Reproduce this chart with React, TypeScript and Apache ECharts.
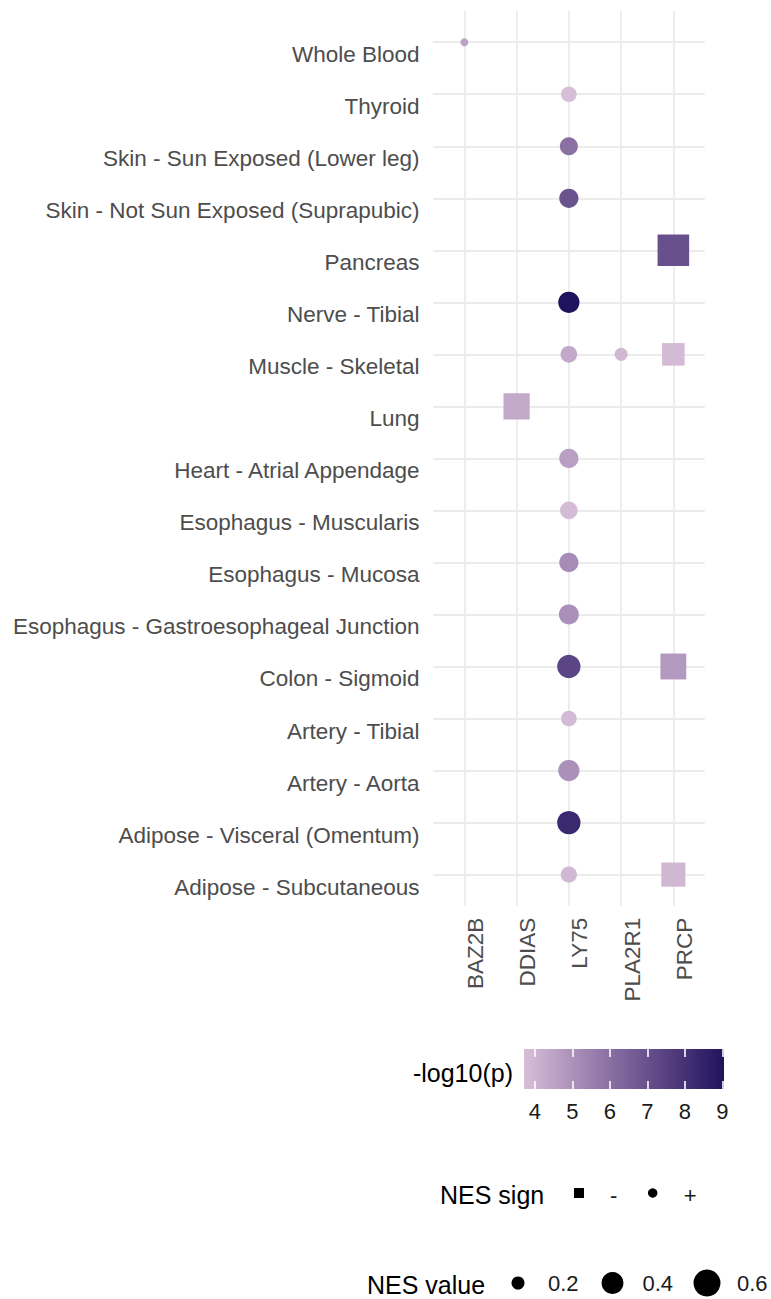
import React, { useEffect, useRef } from "react";
import * as echarts from "echarts";

// y categories, bottom to top
const tissues = [
  "Adipose - Subcutaneous",
  "Adipose - Visceral (Omentum)",
  "Artery - Aorta",
  "Artery - Tibial",
  "Colon - Sigmoid",
  "Esophagus - Gastroesophageal Junction",
  "Esophagus - Mucosa",
  "Esophagus - Muscularis",
  "Heart - Atrial Appendage",
  "Lung",
  "Muscle - Skeletal",
  "Nerve - Tibial",
  "Pancreas",
  "Skin - Not Sun Exposed (Suprapubic)",
  "Skin - Sun Exposed (Lower leg)",
  "Thyroid",
  "Whole Blood",
];
const genes = ["BAZ2B", "DDIAS", "LY75", "PLA2R1", "PRCP"];

// points
const pointTissue = [
  "Whole Blood",
  "Thyroid",
  "Skin - Sun Exposed (Lower leg)",
  "Skin - Not Sun Exposed (Suprapubic)",
  "Pancreas",
  "Nerve - Tibial",
  "Muscle - Skeletal",
  "Muscle - Skeletal",
  "Muscle - Skeletal",
  "Lung",
  "Heart - Atrial Appendage",
  "Esophagus - Muscularis",
  "Esophagus - Mucosa",
  "Esophagus - Gastroesophageal Junction",
  "Colon - Sigmoid",
  "Colon - Sigmoid",
  "Artery - Tibial",
  "Artery - Aorta",
  "Adipose - Visceral (Omentum)",
  "Adipose - Subcutaneous",
  "Adipose - Subcutaneous",
];
const pointGene = [
  "BAZ2B", "LY75", "LY75", "LY75", "PRCP", "LY75", "LY75", "PLA2R1", "PRCP",
  "DDIAS", "LY75", "LY75", "LY75", "LY75", "LY75", "PRCP", "LY75", "LY75",
  "LY75", "LY75", "PRCP",
];
const pointNES = [
  0.17, 0.24, 0.29, 0.32, -0.62, 0.38, 0.26, 0.2, -0.33,
  -0.43, 0.32, 0.28, 0.32, 0.34, 0.45, -0.42, 0.24, 0.38,
  0.45, 0.25, -0.37,
];
const pointLogP = [
  4.5, 3.71, 6.0, 6.9, 7.0, 9.04, 4.35, 3.95, 3.85,
  4.35, 4.6, 3.8, 5.15, 5.05, 7.35, 4.8, 3.85, 5.0,
  8.3, 3.9, 3.95,
];

const colorRange = [3.71, 9.04];
const colorTicks = [4, 5, 6, 7, 8, 9];
const colorStops = ["#d8bfd8", "#aa90b9", "#7d649a", "#503a7c", "#20135e"];
const sizeBreaks = [0.2, 0.4, 0.6];
const signLabels = ["-", "+"];

const FONT = "'Liberation Sans', Arial, sans-serif";
const dia = (v: number) => 8 + 29 * Math.sqrt(Math.max(Math.abs(v) - 0.17, 0));

export default function App() {
  const ref = useRef<HTMLDivElement>(null);
  useEffect(() => {
    document.body.style.margin = "0";
    const chart = echarts.init(ref.current!, null, { renderer: "svg" });
    const data = pointTissue.map((t, i) => [
      genes.indexOf(pointGene[i]),
      tissues.indexOf(t),
      pointNES[i],
      pointLogP[i],
    ]);
    const gridColor = "#ebebeb";
    const option: any = {
      animation: false,
      backgroundColor: "#ffffff",
      textStyle: { fontFamily: FONT },
      grid: [
        { left: 433, top: 11, width: 271.7, height: 894.8 },
        { left: 524, top: 1049, width: 200, height: 40 },
        { left: 542.15, top: 1180, width: 147.4, height: 26 },
        { left: 470.75, top: 1268, width: 283.5, height: 30 },
      ],
      xAxis: [
        {
          type: "value",
          gridIndex: 0,
          min: -0.6,
          max: genes.length - 1 + 0.6,
          axisLine: { show: false },
          axisTick: { show: false, customValues: genes.map((_, i) => i) },
          axisLabel: {
            customValues: genes.map((_, i) => i),
            formatter: (v: number) => "\n" + (genes[Math.round(v)] ?? ""),
            rotate: 90,
            margin: 12,
            fontSize: 22.5,
            lineHeight: 22,
            color: "#4d4d4d",
            fontFamily: FONT,
          },
          splitLine: { show: true, lineStyle: { color: gridColor, width: 1.8 } },
        },
        {
          type: "value",
          gridIndex: 1,
          position: "bottom",
          min: colorRange[0],
          max: colorRange[1],
          z: 10,
          axisLine: { show: false },
          axisTick: {
            show: true,
            inside: true,
            length: 8,
            customValues: colorTicks,
            lineStyle: { color: "#ffffff", width: 1.6 },
          },
          axisLabel: {
            customValues: colorTicks,
            margin: 11,
            fontSize: 22,
            color: "#1a1a1a",
            fontFamily: FONT,
          },
          splitLine: { show: false },
        },
        {
          type: "value",
          gridIndex: 1,
          position: "top",
          min: colorRange[0],
          max: colorRange[1],
          z: 10,
          axisLine: { show: false },
          axisTick: {
            show: true,
            inside: true,
            length: 8,
            customValues: colorTicks,
            lineStyle: { color: "#ffffff", width: 1.6 },
          },
          axisLabel: { show: false },
          splitLine: { show: false },
        },
        {
          type: "category",
          gridIndex: 2,
          data: signLabels,
          show: false,
        },
        {
          type: "category",
          gridIndex: 3,
          data: sizeBreaks.map((b) => b.toFixed(1)),
          show: false,
        },
      ],
      yAxis: [
        {
          type: "value",
          gridIndex: 0,
          min: -0.6,
          max: tissues.length - 1 + 0.6,
          axisLine: { show: false },
          axisTick: { show: false, customValues: tissues.map((_, i) => i) },
          axisLabel: {
            customValues: tissues.map((_, i) => i),
            formatter: (v: number) => "\n" + (tissues[Math.round(v)] ?? ""),
            margin: 13.5,
            fontSize: 22.5,
            lineHeight: 25,
            color: "#4d4d4d",
            fontFamily: FONT,
            verticalAlign: "middle",
          },
          splitLine: { show: true, lineStyle: { color: gridColor, width: 1.8 } },
        },
        { type: "value", gridIndex: 1, min: 0, max: 1, show: false },
        { type: "value", gridIndex: 2, min: 0, max: 1, show: false },
        { type: "value", gridIndex: 3, min: 0, max: 1, show: false },
      ],
      visualMap: {
        type: "continuous",
        show: false,
        seriesIndex: 0,
        dimension: 3,
        min: colorRange[0],
        max: colorRange[1],
        inRange: { color: colorStops },
      },
      series: [
        {
          type: "scatter",
          xAxisIndex: 0,
          yAxisIndex: 0,
          data,
          symbol: (v: number[]) => (v[2] < 0 ? "rect" : "circle"),
          symbolSize: (v: number[]) => (v[2] < 0 ? dia(v[2]) * 1.15 : dia(v[2])),
          itemStyle: { opacity: 1 },
          z: 3,
        },
        {
          type: "custom",
          xAxisIndex: 1,
          yAxisIndex: 1,
          data: [[colorRange[0], colorRange[1]]],
          z: 1,
          renderItem: (params: any, api: any) => {
            const p0 = api.coord([api.value(0), 1]);
            const p1 = api.coord([api.value(1), 0]);
            return {
              type: "rect",
              shape: { x: p0[0], y: p0[1], width: p1[0] - p0[0], height: p1[1] - p0[1] },
              style: {
                fill: new echarts.graphic.LinearGradient(
                  0, 0, 1, 0,
                  colorStops.map((c, i) => ({ offset: i / (colorStops.length - 1), color: c }))
                ),
              },
            };
          },
        },
        {
          type: "scatter",
          xAxisIndex: 3,
          yAxisIndex: 2,
          data: [
            { value: [0, 0.5], symbol: "rect", symbolSize: 10 },
            { value: [1, 0.5], symbol: "circle", symbolSize: 9.5 },
          ],
          itemStyle: { color: "#000000", opacity: 1 },
          label: {
            show: true,
            position: "inside",
            align: "left",
            offset: [31, 2],
            formatter: (p: any) => signLabels[p.dataIndex],
            fontSize: 22,
            color: "#1a1a1a",
            fontFamily: FONT,
          },
        },
        {
          type: "scatter",
          xAxisIndex: 4,
          yAxisIndex: 3,
          data: sizeBreaks.map((b, i) => ({ value: [i, 0.5], symbolSize: dia(b) })),
          symbol: "circle",
          itemStyle: { color: "#000000", opacity: 1 },
          label: {
            show: true,
            position: "inside",
            align: "left",
            offset: [30, 0],
            formatter: (p: any) => sizeBreaks[p.dataIndex].toFixed(1),
            fontSize: 22,
            color: "#1a1a1a",
            fontFamily: FONT,
          },
        },
      ],
      graphic: [
        {
          type: "text",
          x: 513,
          y: 1073,
          style: {
            text: "-log10(p)",
            fontSize: 25,
            fontFamily: FONT,
            fill: "#000000",
            align: "right",
            verticalAlign: "middle",
          },
        },
        {
          type: "text",
          x: 440,
          y: 1195,
          style: {
            text: "NES sign",
            fontSize: 25,
            fontFamily: FONT,
            fill: "#000000",
            align: "left",
            verticalAlign: "middle",
          },
        },
        {
          type: "text",
          x: 367,
          y: 1285,
          style: {
            text: "NES value",
            fontSize: 25,
            fontFamily: FONT,
            fill: "#000000",
            align: "left",
            verticalAlign: "middle",
          },
        },
      ],
    };
    chart.setOption(option);
    return () => chart.dispose();
  }, []);
  return <div ref={ref} style={{ width: 771, height: 1299 }} />;
}
